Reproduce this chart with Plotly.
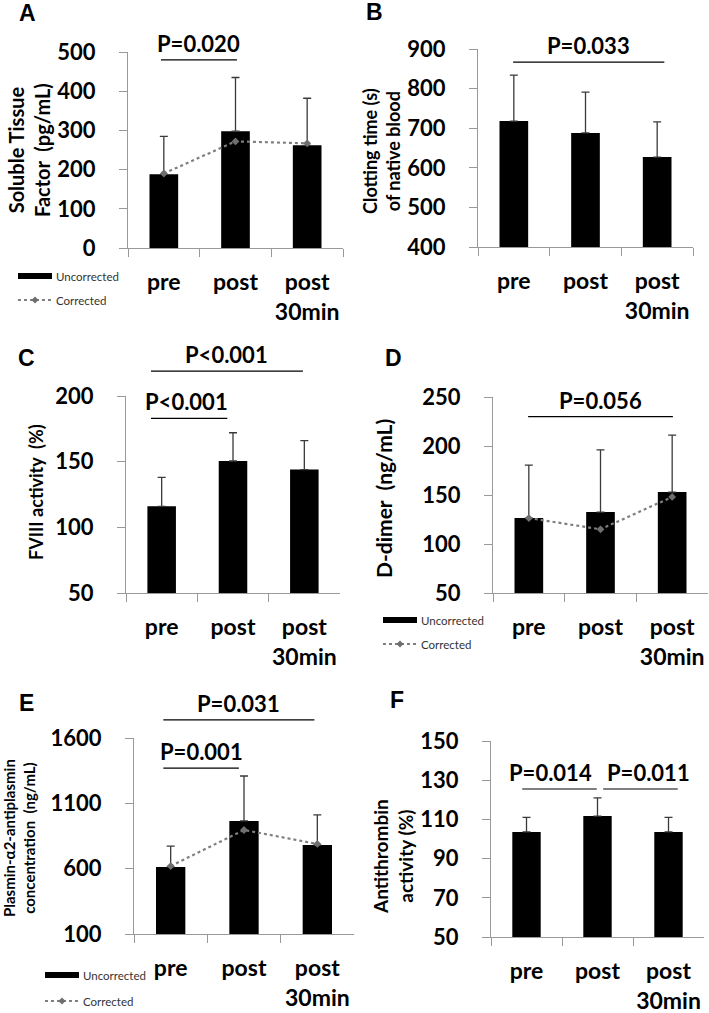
import plotly.graph_objects as go

W, H = 709, 1013

categories = ["pre", "post", "post<br>30min"]

# A: soluble tissue factor (pg/mL)
stf_uncorrected = [188, 298, 262]
stf_sd = [97, 137, 120]
stf_corrected = [190, 272, 267]
# B: clotting time of native blood (s)
clot_uncorrected = [718, 688, 627]
clot_sd = [116, 103, 89]
# C: FVIII activity (%)
fviii_uncorrected = [116, 150.5, 144]
fviii_sd = [22, 21.5, 22]
# D: D-dimer (ng/mL)
ddimer_uncorrected = [126.5, 132.6, 153]
ddimer_sd = [54, 63.4, 58]
ddimer_corrected = [126.5, 115, 148]
# E: plasmin-a2-antiplasmin (ng/mL)
pap_uncorrected = [613, 965, 781]
pap_sd = [160, 344, 230]
pap_corrected = [620, 896, 789]
# F: antithrombin activity (%)
at_uncorrected = [103.6, 111.7, 103.6]
at_sd = [7.4, 9.3, 7.4]

FONT = "Lato"

panels = [
    dict(key="A", vals=stf_uncorrected, sd=stf_sd, cor=stf_corrected,
         box=(128, 343, 52, 248), rng=(0, 500), dtick=100,
         title="Soluble Tissue<br>Factor\u00a0\u00a0(pg/mL)", tsize=20, tpos=(29, 150),
         letter=(27, 13),
         brackets=[(-0.04, 1.02, 480, "P=0.020", 0)]),
    dict(key="B", vals=clot_uncorrected, sd=clot_sd, cor=None,
         box=(478, 693, 49, 247), rng=(400, 900), dtick=100,
         title="Clotting time (s)<br>of native blood", tsize=18, tpos=(381, 151),
         letter=(375, 12),
         brackets=[(-0.01, 2.1, 867, "P=0.033", 0)]),
    dict(key="C", vals=fviii_uncorrected, sd=fviii_sd, cor=None,
         box=(126, 340, 396, 593), rng=(50, 200), dtick=50,
         title="FVIII activity\u00a0\u00a0(%)", tsize=18, tpos=(36, 492),
         letter=(26, 358),
         brackets=[(-0.15, 0.92, 183, "P<0.001", -3), (-0.15, 1.98, 219, "P<0.001", 0)]),
    dict(key="D", vals=ddimer_uncorrected, sd=ddimer_sd, cor=ddimer_corrected,
         box=(493, 708, 397, 593), rng=(50, 250), dtick=50,
         title="D-dimer\u00a0\u00a0(ng/mL)", tsize=21, tpos=(383, 499),
         letter=(393, 358),
         brackets=[(-0.01, 2.01, 230, "P=0.056", 0)]),
    dict(key="E", vals=pap_uncorrected, sd=pap_sd, cor=pap_corrected,
         box=(134, 354, 738, 934), rng=(100, 1600), dtick=500,
         title="Plasmin-\u03b12-antiplasmin<br>concentration\u00a0\u00a0(ng/mL)", tsize=15, tpos=(19, 838),
         letter=(26, 703),
         brackets=[(-0.1, 0.93, 1370, "P=0.001", 0), (-0.1, 1.96, 1738, "P=0.031", 0)]),
    dict(key="F", vals=at_uncorrected, sd=at_sd, cor=None,
         box=(491, 704, 741, 937), rng=(50, 150), dtick=20,
         title="Antithrombin<br>activity (%)", tsize=19, tpos=(393, 857),
         letter=(397, 700),
         brackets=[(-0.06, 0.99, 125.5, "P=0.014", -9), (1.08, 2.13, 125.5, "P=0.011", 8)]),
]

fig = go.Figure()
shapes = []
annotations = []

def px_x(p):
    return p / W

def px_y(p):
    return 1 - p / H

for i, p in enumerate(panels, start=1):
    xa = "x" if i == 1 else f"x{i}"
    ya = "y" if i == 1 else f"y{i}"
    x0, x1, yt, yb = p["box"]
    lo, hi = p["rng"]

    fig.add_trace(go.Bar(
        x=categories, y=p["vals"], xaxis=xa, yaxis=ya, width=0.4,
        marker=dict(color="black", line=dict(width=0)),
        error_y=dict(type="data", array=p["sd"], arrayminus=[0] * 3, symmetric=False,
                     color="#3a3a3a", thickness=1.3, width=4),
        showlegend=False, name="Uncorrected"))
    if p["cor"] is not None:
        fig.add_trace(go.Scatter(
            x=categories, y=p["cor"], xaxis=xa, yaxis=ya, mode="lines+markers",
            line=dict(color="#7f7f7f", width=2.2, dash="dot"),
            marker=dict(symbol="diamond", size=6, color="#6f6f6f"),
            showlegend=False, name="Corrected", cliponaxis=False))

    fig.layout[("xaxis" if i == 1 else f"xaxis{i}")] = dict(
        domain=[px_x(x0), px_x(x1)], anchor=ya, type="category",
        categoryorder="array", categoryarray=categories, range=[-0.5, 2.5],
        tickson="boundaries", ticks="outside", ticklen=8, tickcolor="#999",
        showline=True, linecolor="#999", linewidth=1, showgrid=False, tickangle=0,
        tickfont=dict(family=FONT, size=23, color="black", weight="bold"),
        ticklabelstandoff=13, fixedrange=True, automargin=False)
    fig.layout[("yaxis" if i == 1 else f"yaxis{i}")] = dict(
        domain=[px_y(yb), px_y(yt)], anchor=xa, range=[lo, hi],
        tick0=lo, dtick=p["dtick"], ticks="outside", ticklen=8, tickcolor="#999",
        showline=True, linecolor="#999", linewidth=1, showgrid=False, zeroline=False,
        tickfont=dict(family=FONT, size=22, color="black", weight="bold"),
        ticklabelstandoff=19, fixedrange=True, automargin=False)

    # y title
    annotations.append(dict(
        x=px_x(p["tpos"][0]), y=px_y(p["tpos"][1]), xref="paper", yref="paper",
        text=p["title"], textangle=-90, showarrow=False, xanchor="center", yanchor="middle",
        font=dict(family=FONT, size=p["tsize"], color="black", weight="bold")))
    # panel letter
    annotations.append(dict(
        x=px_x(p["letter"][0]), y=px_y(p["letter"][1]), xref="paper", yref="paper",
        text=p["key"], showarrow=False, xanchor="center", yanchor="middle",
        font=dict(family="Liberation Sans", size=23, color="black", weight="bold")))

    def cx(c):
        return px_x(x0 + (c + 0.5) / 3 * (x1 - x0))

    def cy(v):
        return px_y(yb - (v - lo) / (hi - lo) * (yb - yt))

    for (c0, c1, v, label, tshift) in p["brackets"]:
        shapes.append(dict(type="line", xref="paper", yref="paper",
                           x0=cx(c0), x1=cx(c1), y0=cy(v), y1=cy(v),
                           line=dict(color="black", width=1.2)))
        annotations.append(dict(
            x=(cx(c0) + cx(c1)) / 2, y=cy(v), xref="paper", yref="paper",
            text=label, showarrow=False, xanchor="center", yanchor="bottom", yshift=1,
            xshift=tshift,
            font=dict(family=FONT, size=22, color="black", weight="bold")))

# manual legends (A, D, E)
legend_spots = [(18, 276, 300), (383, 620, 644), (45, 975, 1001)]
for (lx, yu, yc) in legend_spots:
    shapes.append(dict(type="rect", xref="paper", yref="paper",
                       x0=px_x(lx), x1=px_x(lx + 34), y0=px_y(yu - 3), y1=px_y(yu + 3),
                       fillcolor="black", line=dict(width=0)))
    annotations.append(dict(x=px_x(lx + 36), y=px_y(yu), xref="paper", yref="paper",
                            text="Uncorrected", showarrow=False, xanchor="left", yanchor="middle",
                            font=dict(family=FONT, size=11.5, color="#333")))
    shapes.append(dict(type="line", xref="paper", yref="paper",
                       x0=px_x(lx), x1=px_x(lx + 33), y0=px_y(yc), y1=px_y(yc),
                       line=dict(color="#7f7f7f", width=2, dash="dot")))
    dx, dy = 3.5, 3.5
    mx = lx + 17
    shapes.append(dict(type="path", xref="paper", yref="paper",
                       path=f"M {px_x(mx - dx)} {px_y(yc)} L {px_x(mx)} {px_y(yc - dy)} "
                            f"L {px_x(mx + dx)} {px_y(yc)} L {px_x(mx)} {px_y(yc + dy)} Z",
                       fillcolor="#6f6f6f", line=dict(width=0)))
    annotations.append(dict(x=px_x(lx + 36), y=px_y(yc), xref="paper", yref="paper",
                            text="Corrected", showarrow=False, xanchor="left", yanchor="middle",
                            font=dict(family=FONT, size=11.5, color="#333")))

fig.update_layout(
    width=W, height=H, margin=dict(l=0, r=0, t=0, b=0, autoexpand=False),
    paper_bgcolor="white", plot_bgcolor="white",
    shapes=shapes, annotations=annotations, showlegend=False,
    font=dict(family=FONT, color="black"),
)

fig.write_html("out.html", config={"displayModeBar": False},
               post_script="document.body.style.margin='0';document.body.style.overflow='hidden';")
